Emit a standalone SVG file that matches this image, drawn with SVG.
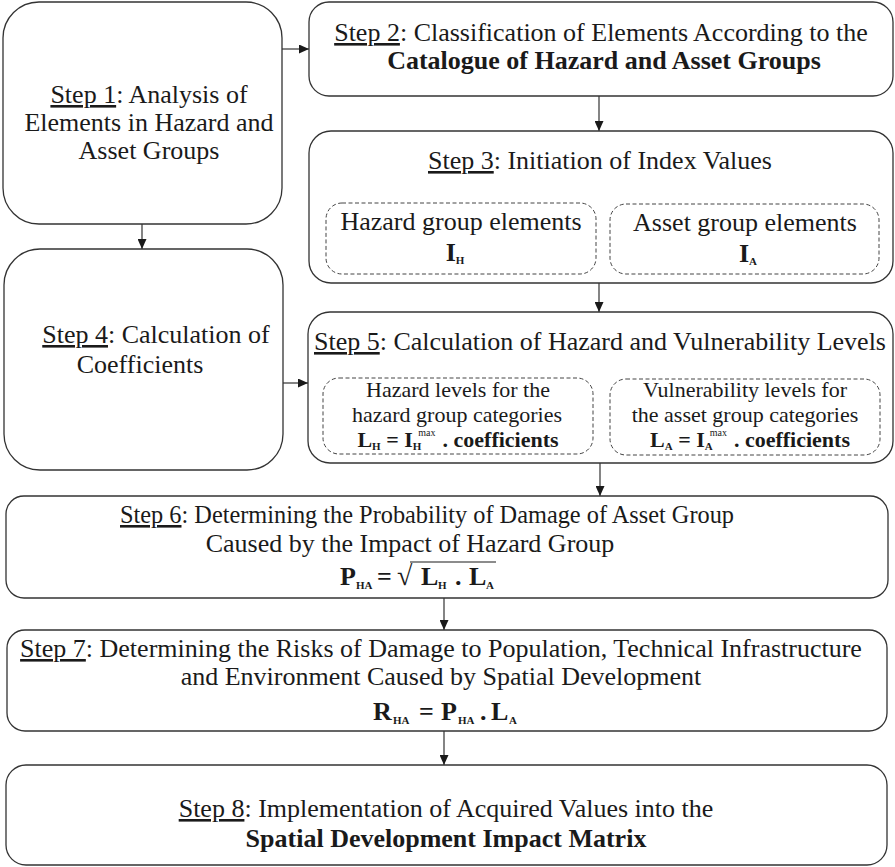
<svg xmlns="http://www.w3.org/2000/svg" width="895" height="867" viewBox="0 0 895 867">
<style>
.box{fill:#fff;stroke:#333;stroke-width:1.3}
.dash{fill:none;stroke:#444;stroke-width:1;stroke-dasharray:4 2.5}
.t{font-family:"Liberation Serif","Times New Roman",serif;font-size:26px;fill:#1a1a1a;text-anchor:middle}
.st{text-anchor:start}
.b{font-weight:bold}
.s{font-size:22px}
.u{text-decoration:underline}
.sub{font-size:11px;font-weight:bold}
.sup{font-size:10px;font-weight:normal}
.conn line{stroke:#333;stroke-width:1.2;marker-end:url(#ah)}
</style>
<defs>
<marker id="ah" markerUnits="userSpaceOnUse" markerWidth="10" markerHeight="9" refX="10" refY="4.5" orient="auto">
<path d="M0,0 L10,4.5 L0,9 z" fill="#1a1a1a"/>
</marker>
</defs>
<rect width="895" height="867" fill="#fff"/>

<g id="connectors" class="conn">
<line x1="282" y1="49" x2="309" y2="49"/>
<line x1="142" y1="224" x2="142" y2="249"/>
<line x1="599" y1="96" x2="599" y2="131"/>
<line x1="599" y1="283" x2="599" y2="312"/>
<line x1="283" y1="383" x2="308" y2="383"/>
<line x1="600" y1="463" x2="600" y2="496"/>
<line x1="444" y1="598" x2="444" y2="630"/>
<line x1="444" y1="731" x2="444" y2="765"/>
</g>

<g id="step1">
<rect class="box" x="3" y="2" width="279" height="222" rx="36" ry="36"/>
<text class="t" x="149" y="103"><tspan class="u">Step 1</tspan>: Analysis of</text>
<text class="t" x="149" y="131">Elements in Hazard and</text>
<text class="t" x="149" y="159">Asset Groups</text>
</g>

<g id="step2">
<rect class="box" x="309" y="2" width="584" height="94" rx="20" ry="20"/>
<text class="t" x="601" y="41"><tspan class="u">Step 2</tspan>: Classification of Elements According to the</text>
<text class="t b" x="604" y="69">Catalogue of Hazard and Asset Groups</text>
</g>

<g id="step3">
<rect class="box" x="309" y="131" width="584" height="152" rx="22" ry="22"/>
<text class="t" x="600" y="169"><tspan class="u">Step 3</tspan>: Initiation of Index Values</text>
<rect class="dash" x="326" y="203" width="270" height="71" rx="16" ry="16"/>
<text class="t" x="461" y="230">Hazard group elements</text>
<text class="t b" x="455" y="261">I<tspan class="sub" dy="3">H</tspan></text>
<rect class="dash" x="610" y="204" width="269" height="70" rx="16" ry="16"/>
<text class="t" x="745" y="231">Asset group elements</text>
<text class="t b" x="748" y="262">I<tspan class="sub" dy="3">A</tspan></text>
</g>

<g id="step4">
<rect class="box" x="4" y="249" width="279" height="221" rx="36" ry="36"/>
<text class="t" x="156" y="343"><tspan class="u">Step 4</tspan>: Calculation of</text>
<text class="t" x="140" y="373">Coefficients</text>
</g>

<g id="step5">
<rect class="box" x="308" y="312" width="585" height="151" rx="22" ry="22"/>
<text class="t" x="600" y="350"><tspan class="u">Step 5</tspan>: Calculation of Hazard and Vulnerability Levels</text>
<rect class="dash" x="323" y="378" width="270" height="76" rx="16" ry="16"/>
<text class="t s" x="458" y="397">Hazard levels for the</text>
<text class="t s" x="457" y="422">hazard group categories</text>
<text class="t s b" x="458" y="447">L<tspan class="sub" dy="3">H</tspan><tspan dy="-3"> = I</tspan><tspan class="sub" dy="3">H</tspan><tspan class="sup" dx="-3" dy="-14">max</tspan><tspan dx="7" dy="11">. coefficients</tspan></text>
<rect class="dash" x="610" y="379" width="270" height="76" rx="16" ry="16"/>
<text class="t s" x="745" y="397">Vulnerability levels for</text>
<text class="t s" x="745" y="422">the asset group categories</text>
<text class="t s b" x="750" y="447">L<tspan class="sub" dy="3">A</tspan><tspan dy="-3"> = I</tspan><tspan class="sub" dy="3">A</tspan><tspan class="sup" dx="-3" dy="-14">max</tspan><tspan dx="7" dy="11">. coefficients</tspan></text>
</g>

<g id="step6">
<rect class="box" x="6" y="496" width="882" height="102" rx="18" ry="18"/>
<text class="t st" x="120" y="523" textLength="614" lengthAdjust="spacingAndGlyphs"><tspan class="u">Step 6</tspan>: Determining the Probability of Damage of Asset Group</text>
<text class="t" x="410" y="552">Caused by the Impact of Hazard Group</text>
<text class="t st b" y="585" font-size="25"><tspan x="340">P</tspan><tspan class="sub" x="356" dy="4">HA</tspan><tspan x="377" dy="-4">=</tspan><tspan x="397" font-weight="normal" font-size="28">√</tspan><tspan x="421">L</tspan><tspan class="sub" x="438" dy="4">H</tspan><tspan x="455" dy="-4">.</tspan><tspan x="469">L</tspan><tspan class="sub" x="486" dy="4">A</tspan></text>
<line x1="410" y1="562" x2="496" y2="562" stroke="#1a1a1a" stroke-width="1.2"/>
</g>

<g id="step7">
<rect class="box" x="7" y="630" width="880" height="101" rx="18" ry="18"/>
<text class="t" x="441" y="657"><tspan class="u">Step 7</tspan>: Determining the Risks of Damage to Population, Technical Infrastructure</text>
<text class="t" x="441" y="685">and Environment Caused by Spatial Development</text>
<text class="t st b" y="720" font-size="25"><tspan x="373">R</tspan><tspan class="sub" x="393" dy="4">HA</tspan><tspan x="419" dy="-4">=</tspan><tspan x="441">P</tspan><tspan class="sub" x="458" dy="4">HA</tspan><tspan x="480" dy="-4">.</tspan><tspan x="491">L</tspan><tspan class="sub" x="509" dy="4">A</tspan></text>
</g>

<g id="step8">
<rect class="box" x="6" y="765" width="881" height="100" rx="20" ry="20"/>
<text class="t" x="446" y="817"><tspan class="u">Step 8</tspan>: Implementation of Acquired Values into the</text>
<text class="t b" x="446" y="847">Spatial Development Impact Matrix</text>
</g>
</svg>
